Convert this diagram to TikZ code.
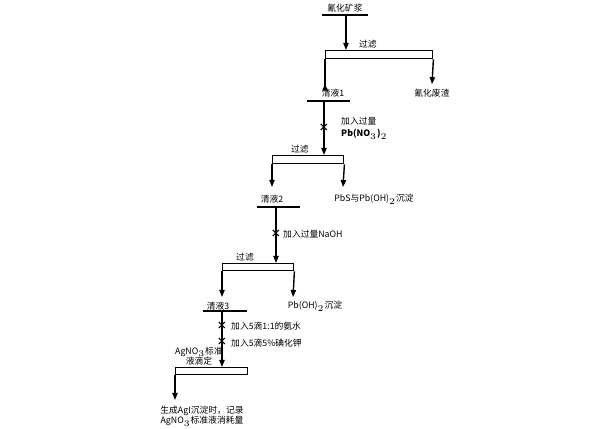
\documentclass[tikz,border=0pt]{standalone}
\usepackage{fontspec}
\setmainfont{Noto Sans CJK SC}
\usetikzlibrary{arrows.meta}
\begin{document}
\begin{tikzpicture}[x=0.02cm, y=-0.02cm]
    % 样式
    \tikzset{
        lbl/.style={inner sep=0.5pt, font=\fontsize{5}{6}\selectfont},
        flow/.style={thick, black, -{Triangle[length=4pt, width=3pt]}},
        line/.style={thick, black},
        filter/.style={draw=black, thick, fill=white, inner sep=0pt, anchor=north west},
        cross/.style={font=\fontsize{6}{6}\selectfont\bfseries, inner sep=0pt}
    }
    \useasboundingbox (0,0) rectangle (600,429);

    % ===== 第一级 =====
    \node[lbl] (ore) at (345,8) {氰化矿浆};
    \coordinate (u1l) at (322,15); \coordinate (u1r) at (368,15);
    \draw[line] (u1l) -- (u1r);
    \node[filter, minimum width=107*0.02cm, minimum height=8*0.02cm] (f1) at (325,50) {};
    \node[lbl] at (368,44) {过滤};
    \draw[flow] (346,15) -- (f1.north west -| 346,0);
    \node[lbl] (c1) at (333,93) {清液1};
    \node[lbl] (w1) at (432,93) {氰化废渣};
    \draw[flow] (f1.south west) -- (c1.north west -| f1.south west) ++(0,-4);
    \draw[flow] (f1.south east) -- ([yshift=2pt]w1.north);

    % ===== 第二级 =====
    \coordinate (u2l) at (307,101); \coordinate (u2r) at (350,101);
    \draw[line] (u2l) -- (u2r);
    \node[filter, minimum width=71*0.02cm, minimum height=8*0.02cm] (f2) at (272,155) {};
    \node[lbl] at (300,149) {过滤};
    \draw[flow] (324,101) -- (324,155);
    \node[cross] at (324,128) {×};
    \node[lbl, anchor=west] at (340,121) {加入过量};
    \node[lbl, anchor=west, font=\fontsize{5}{6}\selectfont\bfseries] at (340,134) {Pb(NO$_3$)$_2$};
    \node[lbl] (c2) at (272,199) {清液2};
    \node[lbl] (w2) at (374,199) {PbS与Pb(OH)$_2$沉淀};
    \draw[flow] (f2.south west) -- (272,187);
    \draw[flow] (f2.south east) -- (343,187);

    % ===== 第三级 =====
    \draw[line] (257,207) -- (300,207);
    \node[filter, minimum width=71*0.02cm, minimum height=7*0.02cm] (f3) at (222,263) {};
    \node[lbl] at (245,257) {过滤};
    \draw[flow] (276,207) -- (276,263);
    \node[cross] at (276,234) {×};
    \node[lbl, anchor=west] at (282,234) {加入过量NaOH};
    \node[lbl] (c3) at (218,306) {清液3};
    \node[lbl] (w3) at (315,306) {Pb(OH)$_2$沉淀};
    \draw[flow] (f3.south west) -- (222,297);
    \draw[flow] (f3.south east) -- (293,297);

    % ===== 滴定 =====
    \draw[line] (203,311) -- (247,311);
    \node[filter, minimum width=72*0.02cm, minimum height=7*0.02cm] (f4) at (175,367) {};
    \draw[flow] (222,311) -- (222,367);
    \node[cross] at (222,326) {×};
    \node[cross] at (222,342) {×};
    \node[lbl, anchor=west] at (230,326) {加入5滴1:1的氨水};
    \node[lbl, anchor=west] at (230,343) {加入5滴5\%碘化钾};
    \node[lbl, align=center] at (199,356) {AgNO$_3$标准\\液滴定};
    \node[lbl, align=center] (res) at (202,416) {生成AgI沉淀时，记录\\AgNO$_3$标准液消耗量};
    \draw[flow] (f4.south west) -- (175,400);
\end{tikzpicture}
\end{document}
